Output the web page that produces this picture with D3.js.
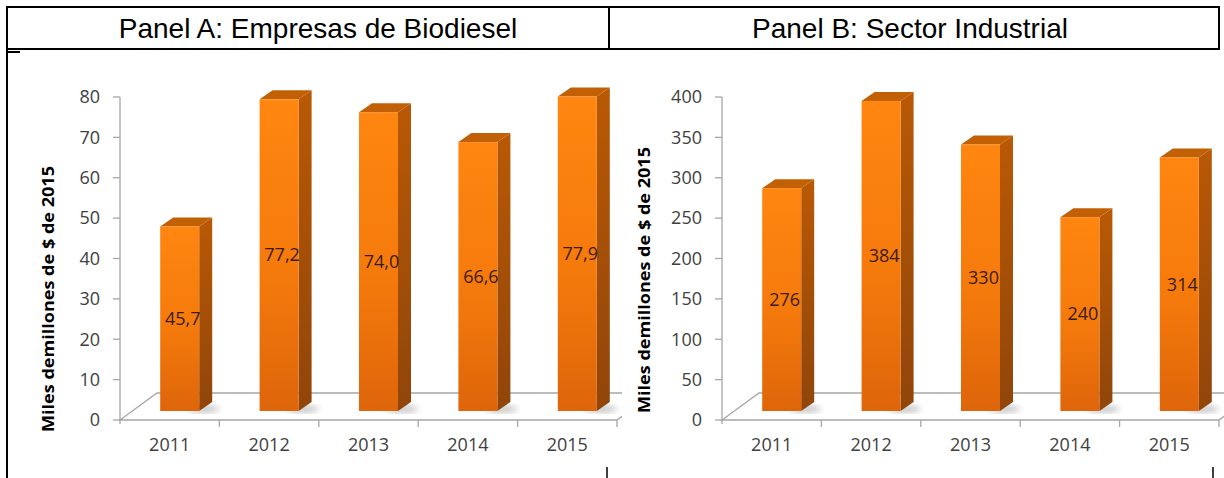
<!DOCTYPE html>
<html>
<head>
<meta charset="utf-8">
<script src="https://cdn.jsdelivr.net/npm/d3@7"></script>
<style>
  body { margin: 0; background: #fff; }
  svg { display: block; }
</style>
</head>
<body>
<svg id="chart" width="1224" height="478"></svg>
<script>
// data
var years = ["2011", "2012", "2013", "2014", "2015"];
var biodiesel = [45.7, 77.2, 74.0, 66.6, 77.9];   // Panel A
var industrial = [276, 384, 330, 240, 314];      // Panel B
var ticksA = [0, 10, 20, 30, 40, 50, 60, 70, 80];
var ticksB = [0, 50, 100, 150, 200, 250, 300, 350, 400];
var titles = ["Panel A: Empresas de Biodiesel", "Panel B: Sector Industrial"];
var yTitle = "Miles demillones de $ de 2015";

var svg = d3.select("#chart");
var es = d3.formatLocale({ decimal: ",", thousands: ".", grouping: [3], currency: ["$", ""] });

var defs = svg.append("defs");
var gFront = defs.append("linearGradient").attr("id", "front").attr("x1", 0).attr("y1", 0).attr("x2", 0).attr("y2", 1);
gFront.append("stop").attr("offset", "0%").attr("stop-color", "#ff8610");
gFront.append("stop").attr("offset", "55%").attr("stop-color", "#f57a0c");
gFront.append("stop").attr("offset", "100%").attr("stop-color", "#de650a");
var gSide = defs.append("linearGradient").attr("id", "side").attr("x1", 0).attr("y1", 0).attr("x2", 0).attr("y2", 1);
gSide.append("stop").attr("offset", "0%").attr("stop-color", "#b95905");
gSide.append("stop").attr("offset", "100%").attr("stop-color", "#90450a");
defs.append("filter").attr("id", "blur").append("feGaussianBlur").attr("stdDeviation", 3);

// header table
var frame = svg.append("g").attr("stroke", "#000").attr("stroke-width", 2).attr("fill", "none");
frame.append("rect").attr("x", 7).attr("y", 7).attr("width", 1212).attr("height", 42);
frame.append("line").attr("x1", 609).attr("x2", 609).attr("y1", 7).attr("y2", 49);
frame.append("line").attr("x1", 7).attr("x2", 7).attr("y1", 49).attr("y2", 478);
frame.append("line").attr("x1", 7).attr("x2", 20).attr("y1", 52).attr("y2", 52);
frame.append("line").attr("x1", 607).attr("x2", 607).attr("y1", 467).attr("y2", 478).attr("stroke-width", 1.5);
frame.append("line").attr("x1", 1213).attr("x2", 1213).attr("y1", 467).attr("y2", 478).attr("stroke-width", 1.5);

svg.selectAll("text.head")
  .data(titles)
  .enter().append("text")
  .attr("class", "head")
  .attr("x", function (d, i) { return i == 0 ? 318 : 910; })
  .attr("y", 38)
  .attr("text-anchor", "middle")
  .style("font-family", "Liberation Sans, Arial, sans-serif")
  .style("font-size", "28px")
  .style("fill", "#000")
  .text(function (d) { return d; });

var drawPanel = function (x0, clipRight, values, ticks, fmt, id, titleX, titleY) {
  var g = svg.append("g");
  var x = d3.scaleBand().domain(years).range([x0, x0 + 497]);
  var y = d3.scaleLinear().domain([0, d3.max(ticks)]).range([420, 97]);
  var bw = 39, ddx = 13, ddy = 9, shift = 10, lift = 9;

  defs.append("clipPath").attr("id", "clip" + id)
    .append("rect").attr("x", x0 - 10).attr("y", 60).attr("width", clipRight - x0 + 10).attr("height", 400);
  var plot = g.append("g").attr("clip-path", "url(#clip" + id + ")");

  // floor
  plot.append("path")
    .attr("d", "M" + x0 + ",420L" + (x0 + 497) + ",420L" + (x0 + 534) + ",393L" + (x0 + 37) + ",393Z")
    .attr("fill", "#fff").attr("stroke", "#a6a6a6").attr("stroke-width", 1.3);

  // category ticks
  plot.selectAll("line.xt")
    .data(years.slice(1).concat(["end"]))
    .enter().append("line")
    .attr("x1", function (d, i) { return x0 + (i + 1) * x.bandwidth(); })
    .attr("x2", function (d, i) { return x0 + (i + 1) * x.bandwidth(); })
    .attr("y1", 420).attr("y2", 427)
    .attr("stroke", "#a6a6a6").attr("stroke-width", 1.3);

  // y axis
  g.append("line").attr("x1", x0).attr("x2", x0).attr("y1", 97).attr("y2", 424)
    .attr("stroke", "#a6a6a6").attr("stroke-width", 1.3);
  g.selectAll("line.yt")
    .data(ticks)
    .enter().append("line")
    .attr("x1", x0 - 7).attr("x2", x0)
    .attr("y1", function (d) { return y(d); })
    .attr("y2", function (d) { return y(d); })
    .attr("stroke", "#a6a6a6").attr("stroke-width", 1.3);
  g.selectAll("text.yl")
    .data(ticks)
    .enter().append("text")
    .attr("x", x0 - 20)
    .attr("y", function (d) { return y(d); })
    .attr("dy", "0.35em")
    .attr("text-anchor", "end")
    .style("font-family", "Open Sans, sans-serif")
    .style("font-size", "18px")
    .style("fill", "#404040")
    .text(function (d) { return d; });

  g.selectAll("text.xl")
    .data(years)
    .enter().append("text")
    .attr("x", function (d) { return x(d) + x.bandwidth() / 2; })
    .attr("y", 445)
    .attr("dy", "0.35em")
    .attr("text-anchor", "middle")
    .style("font-family", "Open Sans, sans-serif")
    .style("font-size", "18px")
    .style("fill", "#404040")
    .text(function (d) { return d; });

  // axis title
  g.append("text")
    .attr("transform", "translate(" + titleX + "," + titleY + ") rotate(-90)")
    .attr("text-anchor", "middle")
    .attr("dy", "0.35em")
    .attr("textLength", 266)
    .attr("lengthAdjust", "spacingAndGlyphs")
    .style("font-family", "Open Sans, sans-serif")
    .style("font-weight", "bold")
    .style("font-size", "16.5px")
    .style("fill", "#000")
    .text(yTitle);

  var bars = plot.selectAll("g.bar")
    .data(values)
    .enter().append("g").attr("class", "bar");

  var left = function (d, i) { return x(years[i]) + x.bandwidth() / 2 + shift - bw / 2; };
  var top = function (d) { return y(d) - lift; };
  var base = y(0) - lift;

  bars.append("ellipse")
    .attr("cx", function (d, i) { return left(d, i) + bw + 4; })
    .attr("cy", base - 2)
    .attr("rx", 16).attr("ry", 4)
    .attr("fill", "#c8c8c8")
    .attr("filter", "url(#blur)");
  bars.append("path")
    .attr("d", function (d, i) {
      var r = left(d, i) + bw;
      return "M" + r + "," + top(d) + "L" + (r + ddx) + "," + (top(d) - ddy) + "L" + (r + ddx) + "," + (base - ddy) + "L" + r + "," + base + "Z";
    })
    .attr("fill", "url(#side)");
  bars.append("path")
    .attr("d", function (d, i) {
      var l = left(d, i), r = l + bw;
      return "M" + l + "," + top(d) + "L" + (l + ddx) + "," + (top(d) - ddy) + "L" + (r + ddx) + "," + (top(d) - ddy) + "L" + r + "," + top(d) + "Z";
    })
    .attr("fill", "#c26006");
  bars.append("rect")
    .attr("x", left)
    .attr("y", top)
    .attr("width", bw)
    .attr("height", function (d) { return base - top(d); })
    .attr("fill", "url(#front)");
  bars.append("text")
    .attr("x", function (d, i) { return left(d, i) + bw / 2 + 3; })
    .attr("y", function (d) { return (top(d) + base) / 2; })
    .attr("dy", "0.35em")
    .attr("text-anchor", "middle")
    .style("font-family", "Open Sans, sans-serif")
    .style("font-size", "18px")
    .style("fill", "#3b1c0c")
    .text(function (d) { return fmt(d); });
};

drawPanel(120, 622, biodiesel, ticksA, es.format(".1f"), "A", 48, 299);
drawPanel(722, 1224, industrial, ticksB, d3.format("d"), "B", 644, 280);
</script>
</body>
</html>
